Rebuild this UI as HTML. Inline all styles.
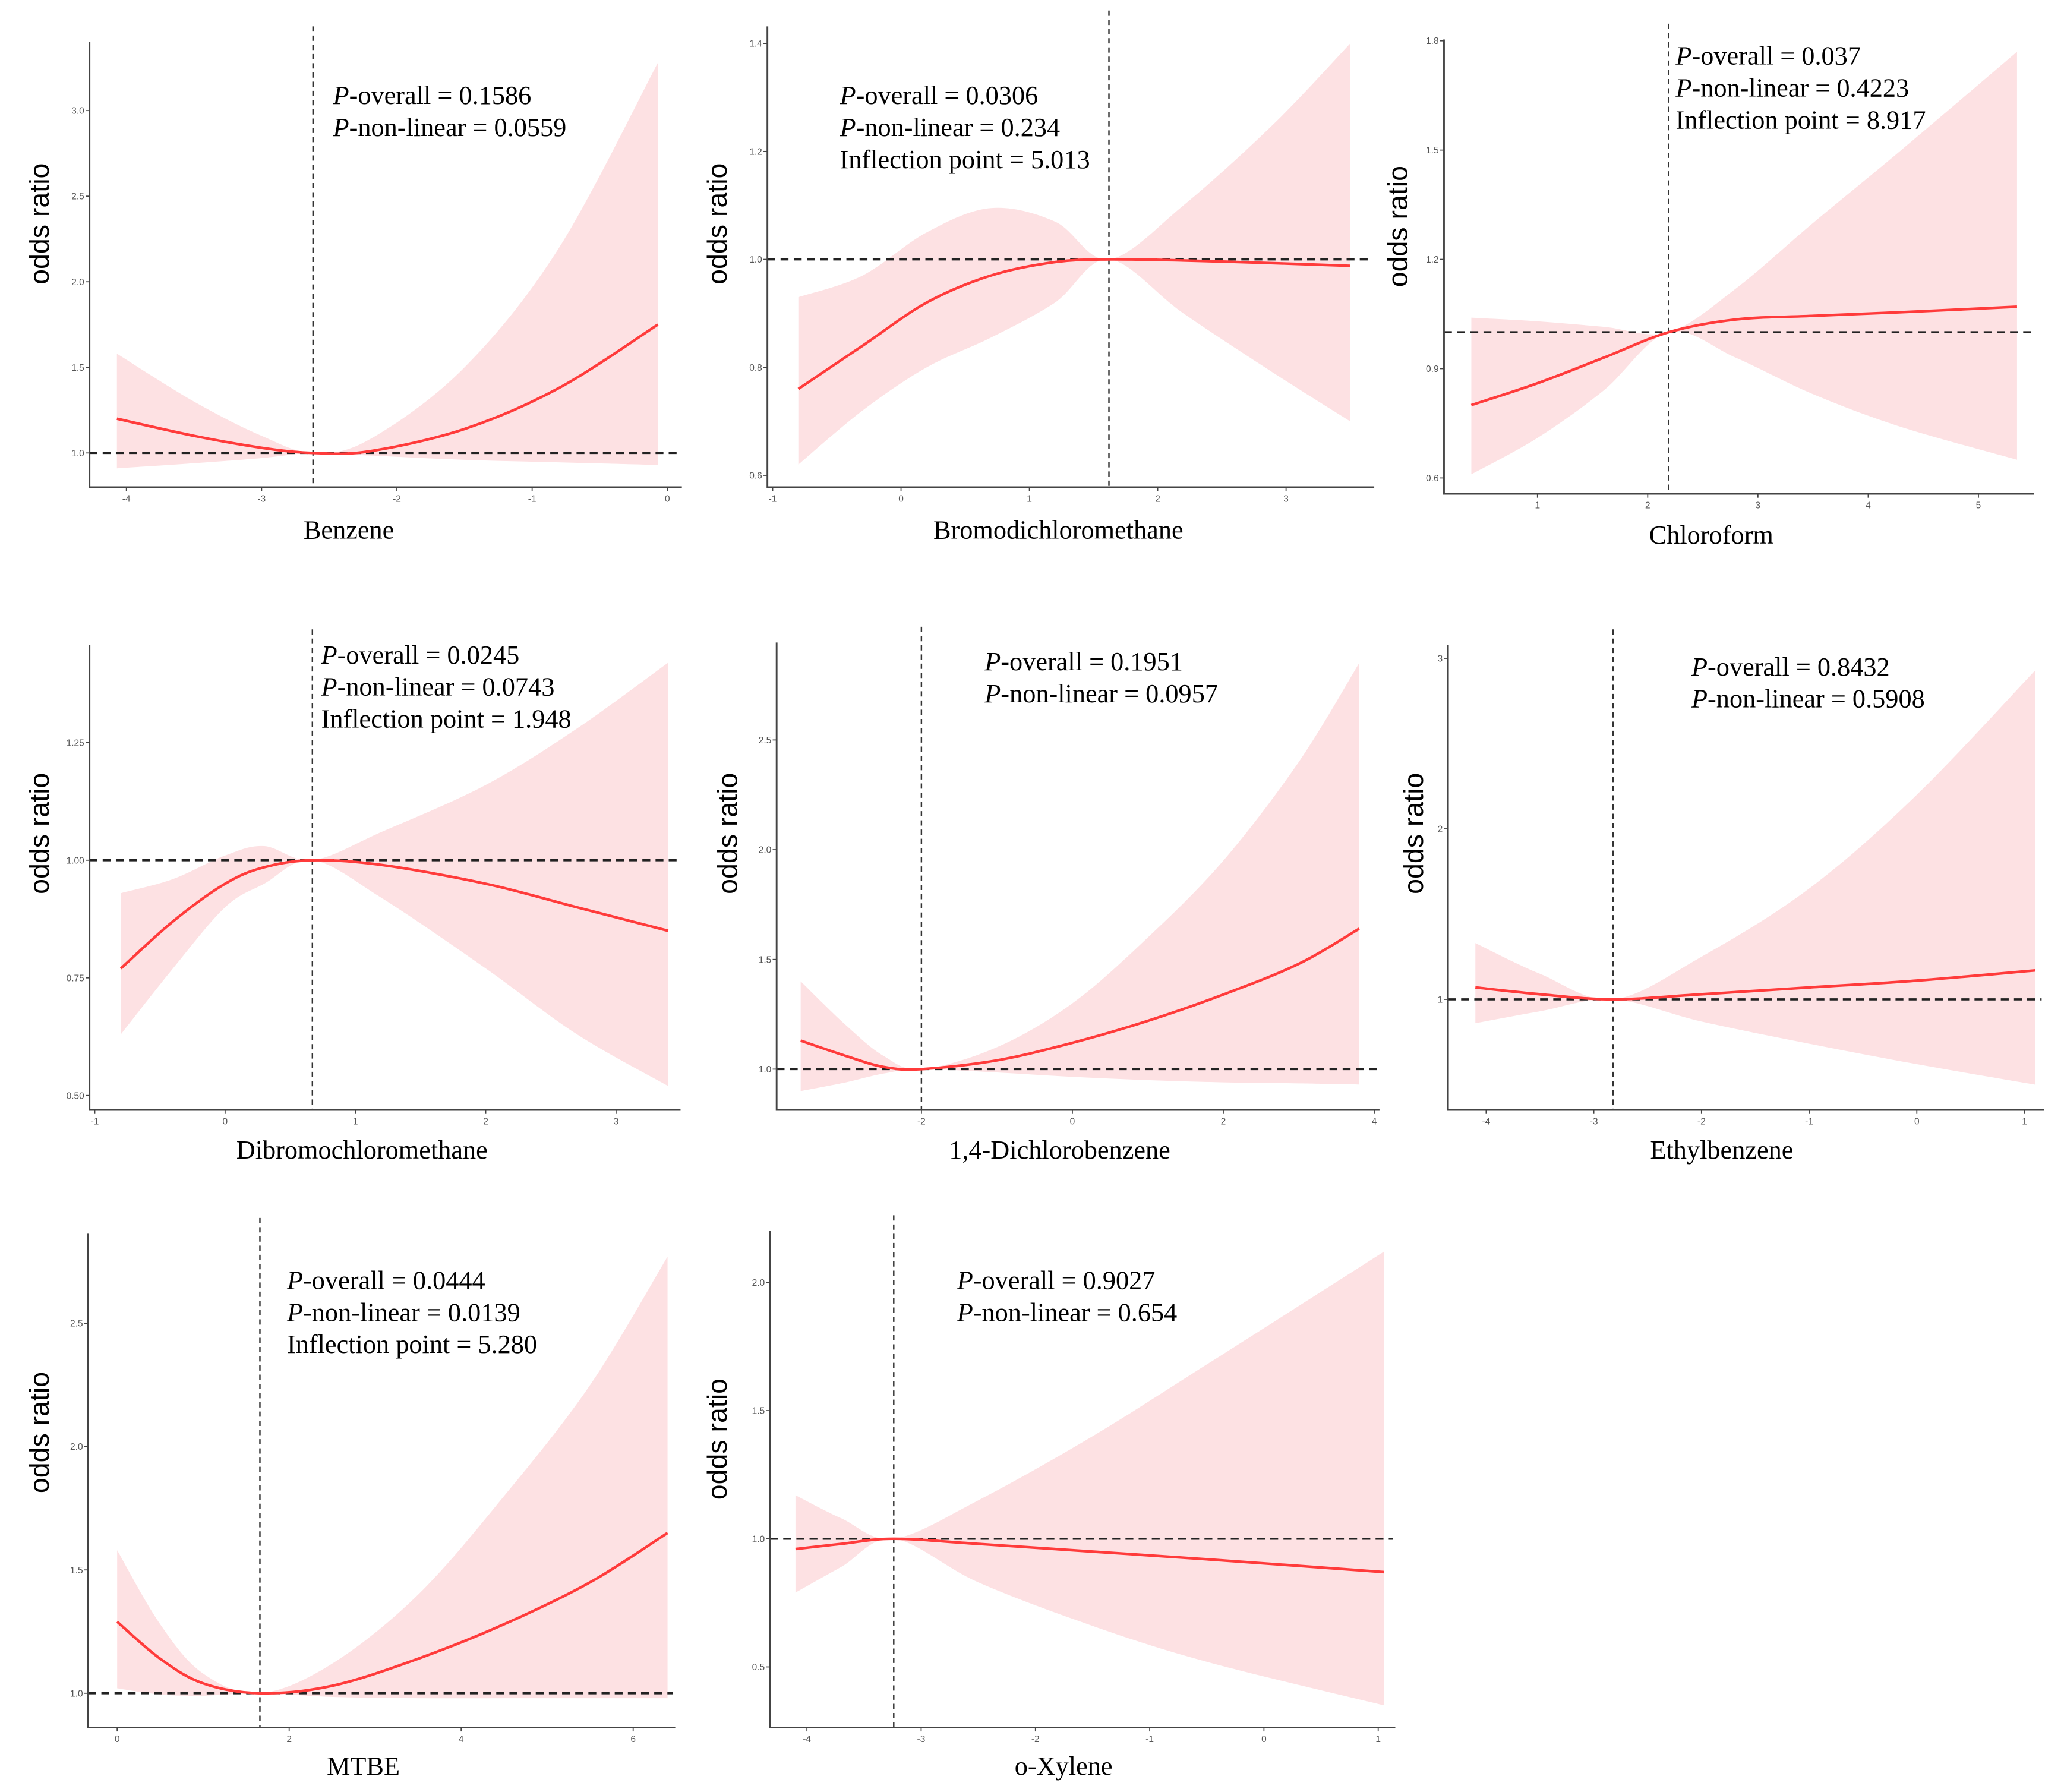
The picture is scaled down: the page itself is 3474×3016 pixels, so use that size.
<!DOCTYPE html>
<html><head><meta charset="utf-8"><style>
html,body{margin:0;padding:0;background:#fff;}
svg{display:block;}
</style></head><body>
<svg id="fig" xmlns="http://www.w3.org/2000/svg" width="3474" height="3016" viewBox="0 0 1568 1361" preserveAspectRatio="none"></svg>
<script>
// ---- data ----
const panelNames = ["Benzene","Bromodichloromethane","Chloroform","Dibromochloromethane","1,4-Dichlorobenzene","Ethylbenzene","MTBE","o-Xylene"];
const statLines = [
 ["P|-overall = 0.1586","P|-non-linear = 0.0559"],
 ["P|-overall = 0.0306","P|-non-linear = 0.234","|Inflection point = 5.013"],
 ["P|-overall = 0.037","P|-non-linear = 0.4223","|Inflection point = 8.917"],
 ["P|-overall = 0.0245","P|-non-linear = 0.0743","|Inflection point = 1.948"],
 ["P|-overall = 0.1951","P|-non-linear = 0.0957"],
 ["P|-overall = 0.8432","P|-non-linear = 0.5908"],
 ["P|-overall = 0.0444","P|-non-linear = 0.0139","|Inflection point = 5.280"],
 ["P|-overall = 0.9027","P|-non-linear = 0.654"]
];
const xTicks = [[-4,-3,-2,-1,0],[-1,0,1,2,3],[1,2,3,4,5],[-1,0,1,2,3],[-2,0,2,4],[-4,-3,-2,-1,0,1],[0,2,4,6],[-4,-3,-2,-1,0,1]];
const yTicks = [[1.0,1.5,2.0,2.5,3.0],[0.6,0.8,1.0,1.2,1.4],[0.6,0.9,1.2,1.5,1.8],[0.50,0.75,1.00,1.25],[1.0,1.5,2.0,2.5],[1,2,3],[1.0,1.5,2.0,2.5],[0.5,1.0,1.5,2.0]];
const yTickDigits = [1,1,1,2,1,0,1,1];
const refX = [-2.62,1.62,2.19,0.67,-2.0,-2.82,1.66,-3.24];
const xs1=[-4.07,-3.5,-3,-2.62,-2.2,-1.5,-0.8,-0.07];
const est1=[1.2,1.1,1.03,1.0,1.01,1.14,1.38,1.75];
const hi1=[1.58,1.3,1.1,1.0,1.08,1.5,2.2,3.28];
const lo1=[0.91,0.94,0.97,1.0,0.985,0.96,0.945,0.93];
const xs2=[-0.8,-0.3,0.2,0.7,1.2,1.62,2.2,2.9,3.5];
const est2=[0.76,0.84,0.92,0.97,0.995,1.0,0.998,0.993,0.988];
const hi2=[0.93,0.97,1.05,1.095,1.07,1.0,1.1,1.25,1.4];
const lo2=[0.62,0.72,0.8,0.855,0.92,1.0,0.9,0.79,0.7];
const xs3=[0.4,1.0,1.6,2.19,2.8,3.5,4.3,5.35];
const est3=[0.8,0.86,0.93,1.0,1.035,1.045,1.055,1.07];
const hi3=[1.04,1.03,1.015,1.0,1.12,1.3,1.5,1.77];
const lo3=[0.61,0.71,0.84,1.0,0.93,0.83,0.74,0.65];
const xs4=[-0.8,-0.4,0,0.3,0.67,1.2,2,2.7,3.4];
const est4=[0.77,0.87,0.95,0.985,1.0,0.99,0.95,0.9,0.85];
const hi4=[0.93,0.96,1.01,1.03,1.0,1.06,1.16,1.28,1.42];
const lo4=[0.63,0.77,0.9,0.95,1.0,0.92,0.77,0.63,0.52];
const xs5=[-3.6,-3,-2.5,-2,-1,0,1,2,3,3.8];
const est5=[1.13,1.06,1.01,1.0,1.04,1.12,1.22,1.34,1.48,1.64];
const hi5=[1.4,1.2,1.06,1.0,1.1,1.3,1.6,1.95,2.4,2.85];
const lo5=[0.9,0.94,0.98,1.0,0.985,0.965,0.95,0.94,0.935,0.93];
const xs6=[-4.1,-3.5,-2.82,-2,-1,0,1.1];
const est6=[1.07,1.03,1.0,1.03,1.07,1.11,1.17];
const hi6=[1.33,1.15,1.0,1.25,1.65,2.2,2.93];
const lo6=[0.86,0.93,1.0,0.87,0.74,0.62,0.5];
const xs7=[0,0.5,1,1.66,2.5,3.5,4.5,5.5,6.4];
const est7=[1.29,1.14,1.04,1.0,1.03,1.14,1.28,1.45,1.65];
const hi7=[1.58,1.28,1.08,1.0,1.12,1.4,1.8,2.25,2.77];
const lo7=[1.02,0.995,0.99,1.0,0.985,0.98,0.98,0.98,0.98];
const xs8=[-4.1,-3.7,-3.24,-2.5,-1.5,-0.5,1.05];
const est8=[0.96,0.98,1.0,0.98,0.95,0.92,0.87];
const hi8=[1.17,1.08,1.0,1.15,1.4,1.68,2.12];
const lo8=[0.79,0.89,1.0,0.83,0.66,0.52,0.35];
const seriesX=[xs1,xs2,xs3,xs4,xs5,xs6,xs7,xs8];
const seriesEst=[est1,est2,est3,est4,est5,est6,est7,est8];
const seriesHi=[hi1,hi2,hi3,hi4,hi5,hi6,hi7,hi8];
const seriesLo=[lo1,lo2,lo3,lo4,lo5,lo6,lo7,lo8];

// ---- layout (pixels) ----
const layouts = [
 {ax:68,top:32,bot:370,right:518,xm:[-4,96,0,507],ym:[1.0,344,3.0,84],tx:253,ty:73,title:[265,403],yl:[30,170]},
 {ax:583,top:20,bot:370,right:1044,xm:[-1,587,3,977],ym:[0.6,361,1.4,33],tx:638,ty:73,title:[804,403],yl:[545,170]},
 {ax:1097,top:30,bot:375,right:1545,xm:[1,1168,5,1503],ym:[0.6,363,1.8,31],tx:1273,ty:43,title:[1300,407],yl:[1062,172]},
 {ax:68,top:490,bot:843,right:517,xm:[-1,72,3,468],ym:[0.5,832,1.25,564],tx:244,ty:498,title:[275,874],yl:[30,633]},
 {ax:590,top:488,bot:843,right:1048,xm:[-2,700,4,1044],ym:[1.0,812,2.5,562],tx:748,ty:503,title:[805,874],yl:[553,633]},
 {ax:1100,top:490,bot:843,right:1553,xm:[-4,1129,1,1538],ym:[1,759,3,500],tx:1285,ty:507,title:[1308,874],yl:[1074,633]},
 {ax:67,top:937,bot:1312,right:513,xm:[0,89,6,481],ym:[1.0,1286,2.5,1005],tx:218,ty:973,title:[276,1342],yl:[30,1088]},
 {ax:585,top:935,bot:1312,right:1060,xm:[-4,613,1,1047],ym:[0.5,1266,2.0,974],tx:727,ty:973,title:[808,1342],yl:[545,1093]}
];
const NS="http://www.w3.org/2000/svg";
const svg=document.getElementById('fig');
function mk(tag,attrs,parent){const e=document.createElementNS(NS,tag);for(const k in attrs)e.setAttribute(k,attrs[k]);(parent||svg).appendChild(e);return e;}
function smooth(pts){
 let d="M"+pts[0][0].toFixed(2)+","+pts[0][1].toFixed(2);
 for(let i=0;i<pts.length-1;i++){
  const p0=pts[Math.max(0,i-1)],p1=pts[i],p2=pts[i+1],p3=pts[Math.min(pts.length-1,i+2)];
  const c1=[p1[0]+(p2[0]-p0[0])/6,p1[1]+(p2[1]-p0[1])/6];
  const c2=[p2[0]-(p3[0]-p1[0])/6,p2[1]-(p3[1]-p1[1])/6];
  d+=" C"+c1.map(v=>v.toFixed(2)).join(",")+" "+c2.map(v=>v.toFixed(2)).join(",")+" "+p2[0].toFixed(2)+","+p2[1].toFixed(2);
 }
 return d;
}
layouts.forEach((L,i)=>{
 const g=mk('g',{});
 
 
 const sx=v=>L.xm[1]+(v-L.xm[0])*(L.xm[3]-L.xm[1])/(L.xm[2]-L.xm[0]);
 const sy=v=>L.ym[1]+(v-L.ym[0])*(L.ym[3]-L.ym[1])/(L.ym[2]-L.ym[0]);
 const X=seriesX[i];
 const up=X.map((x,j)=>[sx(x),sy(seriesHi[i][j])]);
 const dn=X.map((x,j)=>[sx(x),sy(seriesLo[i][j])]).reverse();
 let d=smooth(up); const d2=smooth(dn);
 d+=" L"+d2.slice(1)+" Z";
 const band=mk('path',{d:d,fill:'#fde1e3',stroke:'none'},g);
 
 
 const hl=mk('line',{x1:L.ax,x2:L.right-2,y1:sy(1),y2:sy(1),stroke:'#222','stroke-width':1.6,'stroke-dasharray':'6,4'},g);
 
 
 const vl=mk('line',{x1:sx(refX[i]),x2:sx(refX[i]),y1:L.top-12,y2:L.bot,stroke:'#333','stroke-width':1.1,'stroke-dasharray':'4,3'},g);
 
 
 const ln=mk('path',{d:smooth(X.map((x,j)=>[sx(x),sy(seriesEst[i][j])])),fill:'none',stroke:'#ff3b3b','stroke-width':2},g);
 
 
 const axes=mk('path',{d:`M${L.ax},${L.top} L${L.ax},${L.bot} L${L.right},${L.bot}`,fill:'none',stroke:'#444','stroke-width':1.3},g);
 
 
 xTicks[i].forEach(v=>{
  mk('line',{x1:sx(v),x2:sx(v),y1:L.bot,y2:L.bot+3,stroke:'#444','stroke-width':0.8},g);
  const t=mk('text',{x:sx(v),y:L.bot+11,'text-anchor':'middle','font-size':7,fill:'#555','font-family':'Liberation Sans, sans-serif'},g);
  t.textContent=v;  
 });
 yTicks[i].forEach(v=>{
  mk('line',{x1:L.ax-3,x2:L.ax,y1:sy(v),y2:sy(v),stroke:'#444','stroke-width':0.8},g);
  const t=mk('text',{x:L.ax-4,y:sy(v)+2.5,'text-anchor':'end','font-size':7,fill:'#555','font-family':'Liberation Sans, sans-serif'},g);
  t.textContent=v.toFixed(yTickDigits[i]);  
 });
 statLines[i].forEach((s,k)=>{
  const parts=s.split('|');
  const t=mk('text',{x:L.tx,y:L.ty+k*24.3+6,'font-size':20,fill:'#000','font-family':'Liberation Serif, serif'},g);
   
  if(parts[0]){const a=mk('tspan',{'font-style':'italic'},t);a.textContent=parts[0];}
  const b=mk('tspan',{},t);b.textContent=parts[1];
 });
 const tt=mk('text',{x:L.title[0],y:L.title[1]+6,'text-anchor':'middle','font-size':20,fill:'#000','font-family':'Liberation Serif, serif'},g);
 tt.textContent=panelNames[i];  
 const yl=mk('text',{x:0,y:0,'text-anchor':'middle','font-size':21,fill:'#000','font-family':'Liberation Sans, sans-serif',transform:`translate(${L.yl[0]+7},${L.yl[1]}) rotate(-90)`},g);
 yl.textContent='odds ratio';  
});
</script>
</body></html>
